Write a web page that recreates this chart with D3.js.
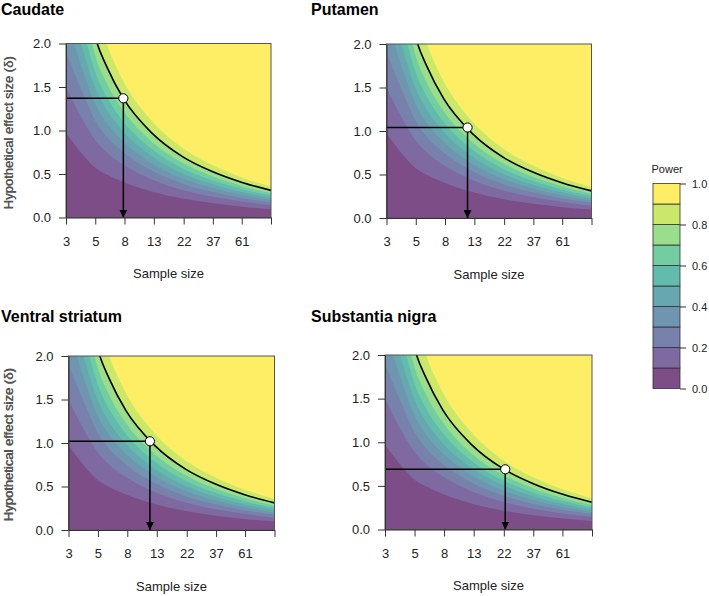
<!DOCTYPE html>
<html><head><meta charset="utf-8">
<script src="https://cdn.jsdelivr.net/npm/d3@7"></script>
<style>
body{margin:0;background:#fff}
svg{display:block}
text{font-family:"Liberation Sans",Arial,Helvetica,sans-serif}
</style>
</head><body>
<svg id="c" width="709" height="596"></svg>
<script>
// ---------- data ----------
const panelTitles = ["Caudate", "Putamen", "Ventral striatum", "Substantia nigra"];
const pointN = [8, 12, 12, 23];            // chosen sample size per panel
const pointDelta = [1.37, 1.04, 1.02, 0.69]; // effect size at power 0.8

// sample sizes at which contour boundaries were read
const sampleSizes = [3, 4, 5, 6, 8, 13, 22, 37, 61, 100];
// effect size (delta) at which power reaches each level
const p10 = [0.97, 0.72, 0.565, 0.495, 0.408, 0.298, 0.217, 0.163, 0.125, 0.097];
const p20 = [1.50, 1.12, 0.88, 0.75, 0.607, 0.438, 0.317, 0.238, 0.183, 0.142];
const p30 = [1.90, 1.43, 1.10, 0.93, 0.751, 0.539, 0.389, 0.292, 0.225, 0.174];
const p40 = [2.30, 1.69, 1.29, 1.09, 0.873, 0.625, 0.451, 0.338, 0.260, 0.201];
const p50 = [2.70, 1.93, 1.47, 1.24, 0.988, 0.705, 0.509, 0.381, 0.293, 0.227];
const p60 = [3.10, 2.19, 1.65, 1.39, 1.103, 0.786, 0.566, 0.424, 0.326, 0.253];
const p70 = [3.55, 2.46, 1.84, 1.55, 1.226, 0.872, 0.628, 0.471, 0.362, 0.280];
const p80 = [4.20, 2.78, 2.05, 1.74, 1.369, 0.973, 0.700, 0.525, 0.403, 0.312];
const p90 = [5.40, 3.22, 2.38, 2.00, 1.569, 1.112, 0.800, 0.600, 0.461, 0.357];
const powerLevels = [0.1, 0.2, 0.3, 0.4, 0.5, 0.6, 0.7, 0.8, 0.9];

const xTickValues = [3, 4.95, 8.16, 13.48, 22.45, 37.0, 60.6, 100];
const xTickLabels = ["3", "5", "8", "13", "22", "37", "61", ""];
const yTickValues = [0, 0.5, 1.0, 1.5, 2.0];
const legendTicks = [0, 0.2, 0.4, 0.6, 0.8, 1.0];

// ---------- layout ----------
const boundaries = [p10, p20, p30, p40, p50, p60, p70, p80, p90];
const fills = d3.range(10).map(i => d3.interpolateRgb("#ffffff", d3.interpolateViridis(i / 9))(0.7));
const rects = [
  {x: 66, y: 43.5, w: 205, h: 174, tx: 1, ty: 14.5},
  {x: 386.5, y: 44, w: 205, h: 174, tx: 311, ty: 14.5},
  {x: 68.5, y: 356, w: 206, h: 174, tx: 1, ty: 322},
  {x: 385, y: 355, w: 207, h: 174.5, tx: 311, ty: 322}
];
const svg = d3.select("#c");
const defs = svg.append("defs");
defs.append("marker").attr("id", "arr").attr("viewBox", "0 0 10 10")
  .attr("refX", 10).attr("refY", 5).attr("markerWidth", 8).attr("markerHeight", 8)
  .attr("markerUnits", "userSpaceOnUse").attr("orient", "auto")
  .append("path").attr("d", "M0,0L10,5L0,10Z").attr("fill", "#000");

rects.forEach((r, i) => {
  const x = d3.scaleLog().domain([3, 100]).range([r.x, r.x + r.w]);
  const y = d3.scaleLinear().domain([0, 2]).range([r.y + r.h, r.y]);
  defs.append("clipPath").attr("id", "clip" + i).append("rect")
    .attr("x", r.x).attr("y", r.y).attr("width", r.w).attr("height", r.h);
  const g = svg.append("g");
  const plot = g.append("g").attr("clip-path", `url(#clip${i})`);
  plot.append("rect").attr("x", r.x).attr("y", r.y).attr("width", r.w).attr("height", r.h)
    .attr("fill", fills[9]);
  const area = d3.area().x((d, j) => x(sampleSizes[j])).y0(y(0)).y1(d => y(d))
    .curve(d3.curveMonotoneX);
  for (let k = 8; k >= 0; k--) {
    plot.append("path").datum(boundaries[k]).attr("d", area).attr("fill", fills[k]);
  }
  const line = d3.line().x((d, j) => x(sampleSizes[j])).y(d => y(d)).curve(d3.curveMonotoneX);
  plot.append("path").datum(p80).attr("d", line).attr("fill", "none")
    .attr("stroke", "#000").attr("stroke-width", 1.6);

  // box
  g.append("rect").attr("x", r.x).attr("y", r.y).attr("width", r.w).attr("height", r.h)
    .attr("fill", "none").attr("stroke", "#555").attr("stroke-width", 1);

  // guide lines
  const px = x(pointN[i]), py = y(pointDelta[i]);
  g.append("line").attr("x1", x(3)).attr("x2", px).attr("y1", py).attr("y2", py)
    .attr("stroke", "#000").attr("stroke-width", 1.5);
  g.append("line").attr("x1", px).attr("x2", px).attr("y1", py).attr("y2", y(0))
    .attr("stroke", "#000").attr("stroke-width", 1.5).attr("marker-end", "url(#arr)");
  g.append("circle").attr("cx", px).attr("cy", py).attr("r", 4.6)
    .attr("fill", "#fff").attr("stroke", "#000").attr("stroke-width", 1);

  // axes
  const xa = g.append("g").attr("transform", `translate(0,${r.y + r.h})`)
    .call(d3.axisBottom(x).tickValues(xTickValues).tickFormat((d, j) => xTickLabels[j])
      .tickSizeInner(7).tickSizeOuter(0).tickPadding(12));
  const ya = g.append("g").attr("transform", `translate(${r.x},0)`)
    .call(d3.axisLeft(y).tickValues(yTickValues).tickFormat(d3.format(".1f"))
      .tickSizeInner(7).tickSizeOuter(0).tickPadding(8));
  [xa, ya].forEach(a => {
    a.selectAll("path,line").attr("stroke", "#333");
    a.selectAll("text").attr("fill", "#222").style("font-size", "13px")
      .style("font-family", '"Liberation Sans",Arial,sans-serif');
  });
  g.append("text").attr("x", r.x + r.w / 2).attr("y", r.y + r.h + 60.5)
    .attr("text-anchor", "middle").attr("fill", "#222").style("font-size", "13px")
    .text("Sample size");
  g.append("text").attr("transform", `translate(12.5,${r.y + r.h / 2 + 2}) rotate(-90)`)
    .attr("text-anchor", "middle").attr("fill", "#555").style("font-size", "13px")
    .style("font-weight", "normal").style("font-family", '"Liberation Sans",Arial,sans-serif')
    .text("Hypothetical effect size (\u03b4)");
  g.append("text").attr("x", r.tx).attr("y", r.ty).attr("fill", "#000")
    .style("font-size", "16px").style("font-weight", "bold").text(panelTitles[i]);
});

// ---------- legend ----------
const lg = svg.append("g");
const ly = d3.scaleLinear().domain([0, 1]).range([388.5, 183.5]);
const lx = 653, lw = 27;
d3.range(10).forEach(i => {
  lg.append("rect").attr("x", lx).attr("y", ly((i + 1) / 10)).attr("width", lw)
    .attr("height", ly(i / 10) - ly((i + 1) / 10)).attr("fill", fills[i])
    .attr("stroke", "#333").attr("stroke-width", 0.8);
});
lg.append("g").attr("transform", `translate(${lx + lw},0)`)
  .call(d3.axisRight(ly).tickValues(legendTicks).tickFormat(d3.format(".1f"))
    .tickSizeInner(6).tickSizeOuter(0).tickPadding(6))
  .call(a => {
    a.select(".domain").remove();
    a.selectAll("line").attr("stroke", "#333");
    a.selectAll("text").attr("fill", "#222").style("font-size", "11px")
      .style("font-family", '"Liberation Sans",Arial,sans-serif');
  });
lg.append("text").attr("x", 651.5).attr("y", 173).attr("fill", "#222")
  .style("font-size", "11px").text("Power");
</script>
</body></html>
